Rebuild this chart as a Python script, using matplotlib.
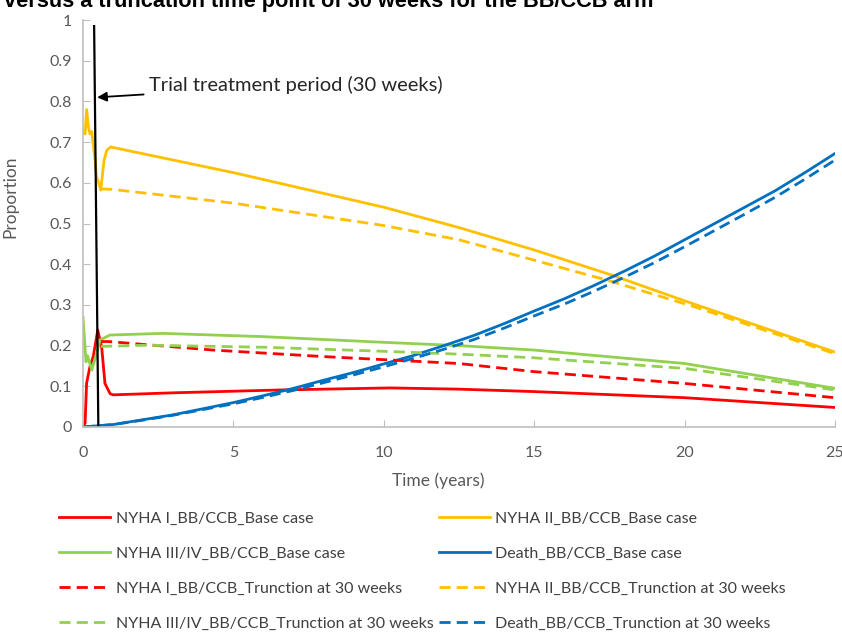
import numpy as np
import matplotlib
matplotlib.use("Agg")
import matplotlib.pyplot as plt

plt.rcParams['font.family'] = ['Lato', 'DejaVu Sans']

# Base case curves
nyha1_base_t = [0, 0.07, 0.12, 0.23, 0.34, 0.49, 0.62, 0.73, 0.9, 1.0, 3, 6.55, 10.2, 12.5, 15, 20, 25]
nyha1_base = [0, 0.01, 0.108, 0.148, 0.173, 0.238, 0.197, 0.107, 0.082, 0.079, 0.084, 0.091, 0.096, 0.093, 0.087, 0.072, 0.048]

nyha2_base_t = [0, 0.07, 0.12, 0.18, 0.23, 0.29, 0.4, 0.45, 0.52, 0.59, 0.7, 0.79, 0.92, 5, 10, 12.5, 15, 17.63, 20, 25]
nyha2_base = [0.73, 0.72, 0.78, 0.738, 0.72, 0.726, 0.656, 0.615, 0.6, 0.582, 0.655, 0.68, 0.688, 0.625, 0.54, 0.49, 0.435, 0.372, 0.31, 0.184]

nyha3_base_t = [0, 0.1, 0.15, 0.29, 0.45, 0.57, 0.9, 2.66, 6, 10, 12.5, 15, 20, 25]
nyha3_base = [0.27, 0.16, 0.175, 0.14, 0.18, 0.214, 0.226, 0.23, 0.222, 0.208, 0.2, 0.189, 0.156, 0.095]

death_base_t = [0, 1, 2, 3, 4, 5, 6, 7, 8, 9, 10, 11, 12, 13, 14, 15, 16, 17, 18, 19, 20, 21, 22, 23, 24, 25]
death_base = [0, 0.006, 0.018, 0.03, 0.045, 0.06, 0.077, 0.095, 0.115, 0.134, 0.155, 0.176, 0.2, 0.225, 0.254, 0.285,
              0.315, 0.348, 0.383, 0.42, 0.46, 0.5, 0.54, 0.58, 0.625, 0.672]

# Truncation at 30 weeks curves
nyha1_trunc_t = [0.6, 0.84, 4.33, 8, 12.5, 15, 20, 25]
nyha1_trunc = [0.21, 0.21, 0.189, 0.173, 0.156, 0.136, 0.107, 0.072]

nyha2_trunc_t = [0.6, 0.95, 5, 10, 12.5, 15, 17.6, 20.3, 25]
nyha2_trunc = [0.585, 0.584, 0.55, 0.495, 0.46, 0.41, 0.357, 0.296, 0.18]

nyha3_trunc_t = [0.6, 2.1, 6, 10, 12.5, 15, 20, 25]
nyha3_trunc = [0.198, 0.201, 0.196, 0.186, 0.179, 0.17, 0.144, 0.091]

death_trunc_t = [0, 1, 2, 3, 4, 5, 6, 7, 8, 9, 10, 11, 12, 13, 14, 15, 16, 17, 18, 19, 20, 21, 22, 23, 24, 25]
death_trunc = [0, 0.006, 0.017, 0.029, 0.043, 0.057, 0.073, 0.09, 0.109, 0.128, 0.148, 0.169, 0.191, 0.215, 0.243, 0.273,
               0.302, 0.334, 0.368, 0.404, 0.443, 0.483, 0.523, 0.564, 0.609, 0.656]

# Trial treatment period marker
treat_x = [0.37, 0.51]
treat_y = [0.985, 0]

red = '#FF0000'
yellow = '#FFC000'
green = '#92D050'
blue = '#0070C0'
grey = '#595959'

fig = plt.figure(figsize=(8.42, 6.32), dpi=100)
ax = fig.add_axes([83 / 842, 1 - 427 / 632, 752 / 842, 407 / 632])

lw = 2.0
dash = (4, 2.2)
l1, = ax.plot(nyha1_base_t, nyha1_base, color=red, lw=lw, label='NYHA I_BB/CCB_Base case')
l2, = ax.plot(nyha2_base_t, nyha2_base, color=yellow, lw=lw, label='NYHA II_BB/CCB_Base case')
l3, = ax.plot(nyha3_base_t, nyha3_base, color=green, lw=lw, label='NYHA III/IV_BB/CCB_Base case')
l4, = ax.plot(death_base_t, death_base, color=blue, lw=lw, label='Death_BB/CCB_Base case')
l5, = ax.plot(nyha1_trunc_t, nyha1_trunc, color=red, lw=lw, dashes=dash, label='NYHA I_BB/CCB_Trunction at 30 weeks')
l6, = ax.plot(nyha2_trunc_t, nyha2_trunc, color=yellow, lw=lw, dashes=dash, label='NYHA II_BB/CCB_Trunction at 30 weeks')
l7, = ax.plot(nyha3_trunc_t, nyha3_trunc, color=green, lw=lw, dashes=dash, label='NYHA III/IV_BB/CCB_Trunction at 30 weeks')
l8, = ax.plot(death_trunc_t, death_trunc, color=blue, lw=lw, dashes=dash, label='Death_BB/CCB_Trunction at 30 weeks')

ax.plot(treat_x, treat_y, color='black', lw=1.6)
ax.annotate('Trial treatment period (30 weeks)', xy=(0.47, 0.81), xytext=(2.2, 0.84),
            fontsize=14.5, color='#262626', va='center',
            arrowprops=dict(arrowstyle='-|>', color='black', lw=1.3, mutation_scale=14, shrinkA=2, shrinkB=0))

ax.set_xlim(0, 25)
ax.set_ylim(0, 1)
ax.set_xticks([0, 5, 10, 15, 20, 25])
ax.set_yticks(np.arange(0, 1.01, 0.1))
ax.set_yticklabels(['0', '0.1', '0.2', '0.3', '0.4', '0.5', '0.6', '0.7', '0.8', '0.9', '1'])
for s in ['top', 'right']:
    ax.spines[s].set_visible(False)
for s in ['left', 'bottom']:
    ax.spines[s].set_color('#BFBFBF')
    ax.spines[s].set_linewidth(1.2)
ax.tick_params(direction='in', length=5, color='#BFBFBF', labelcolor=grey, labelsize=11.5)
ax.tick_params(axis='x', pad=14)
ax.tick_params(axis='y', pad=8)

ax.set_xlabel('Time (years)', fontsize=12.5, color=grey)
ax.set_ylabel('Proportion', fontsize=12.5, color=grey)
ax.xaxis.set_label_coords(0.472, -0.111)
ax.yaxis.set_label_coords(-0.086, 0.565)

fig.text(0.005, 1 - 7 / 632, 'versus a truncation time point of 30 weeks for the BB/CCB arm',
         fontsize=15.7, fontweight='bold', family='Liberation Sans', va='baseline')

handles = [l1, l3, l5, l7, l2, l4, l6, l8]
leg = fig.legend(handles=handles, labels=[h.get_label() for h in handles], ncol=2,
                 loc='upper left', bbox_to_anchor=(45 / 842, 1 - 497 / 632),
                 frameon=False, fontsize=11.5, handlelength=3.2, handletextpad=0.35,
                 columnspacing=0.3, labelspacing=1.3, labelcolor='#404040')

fig.savefig('out.png', dpi=100)
